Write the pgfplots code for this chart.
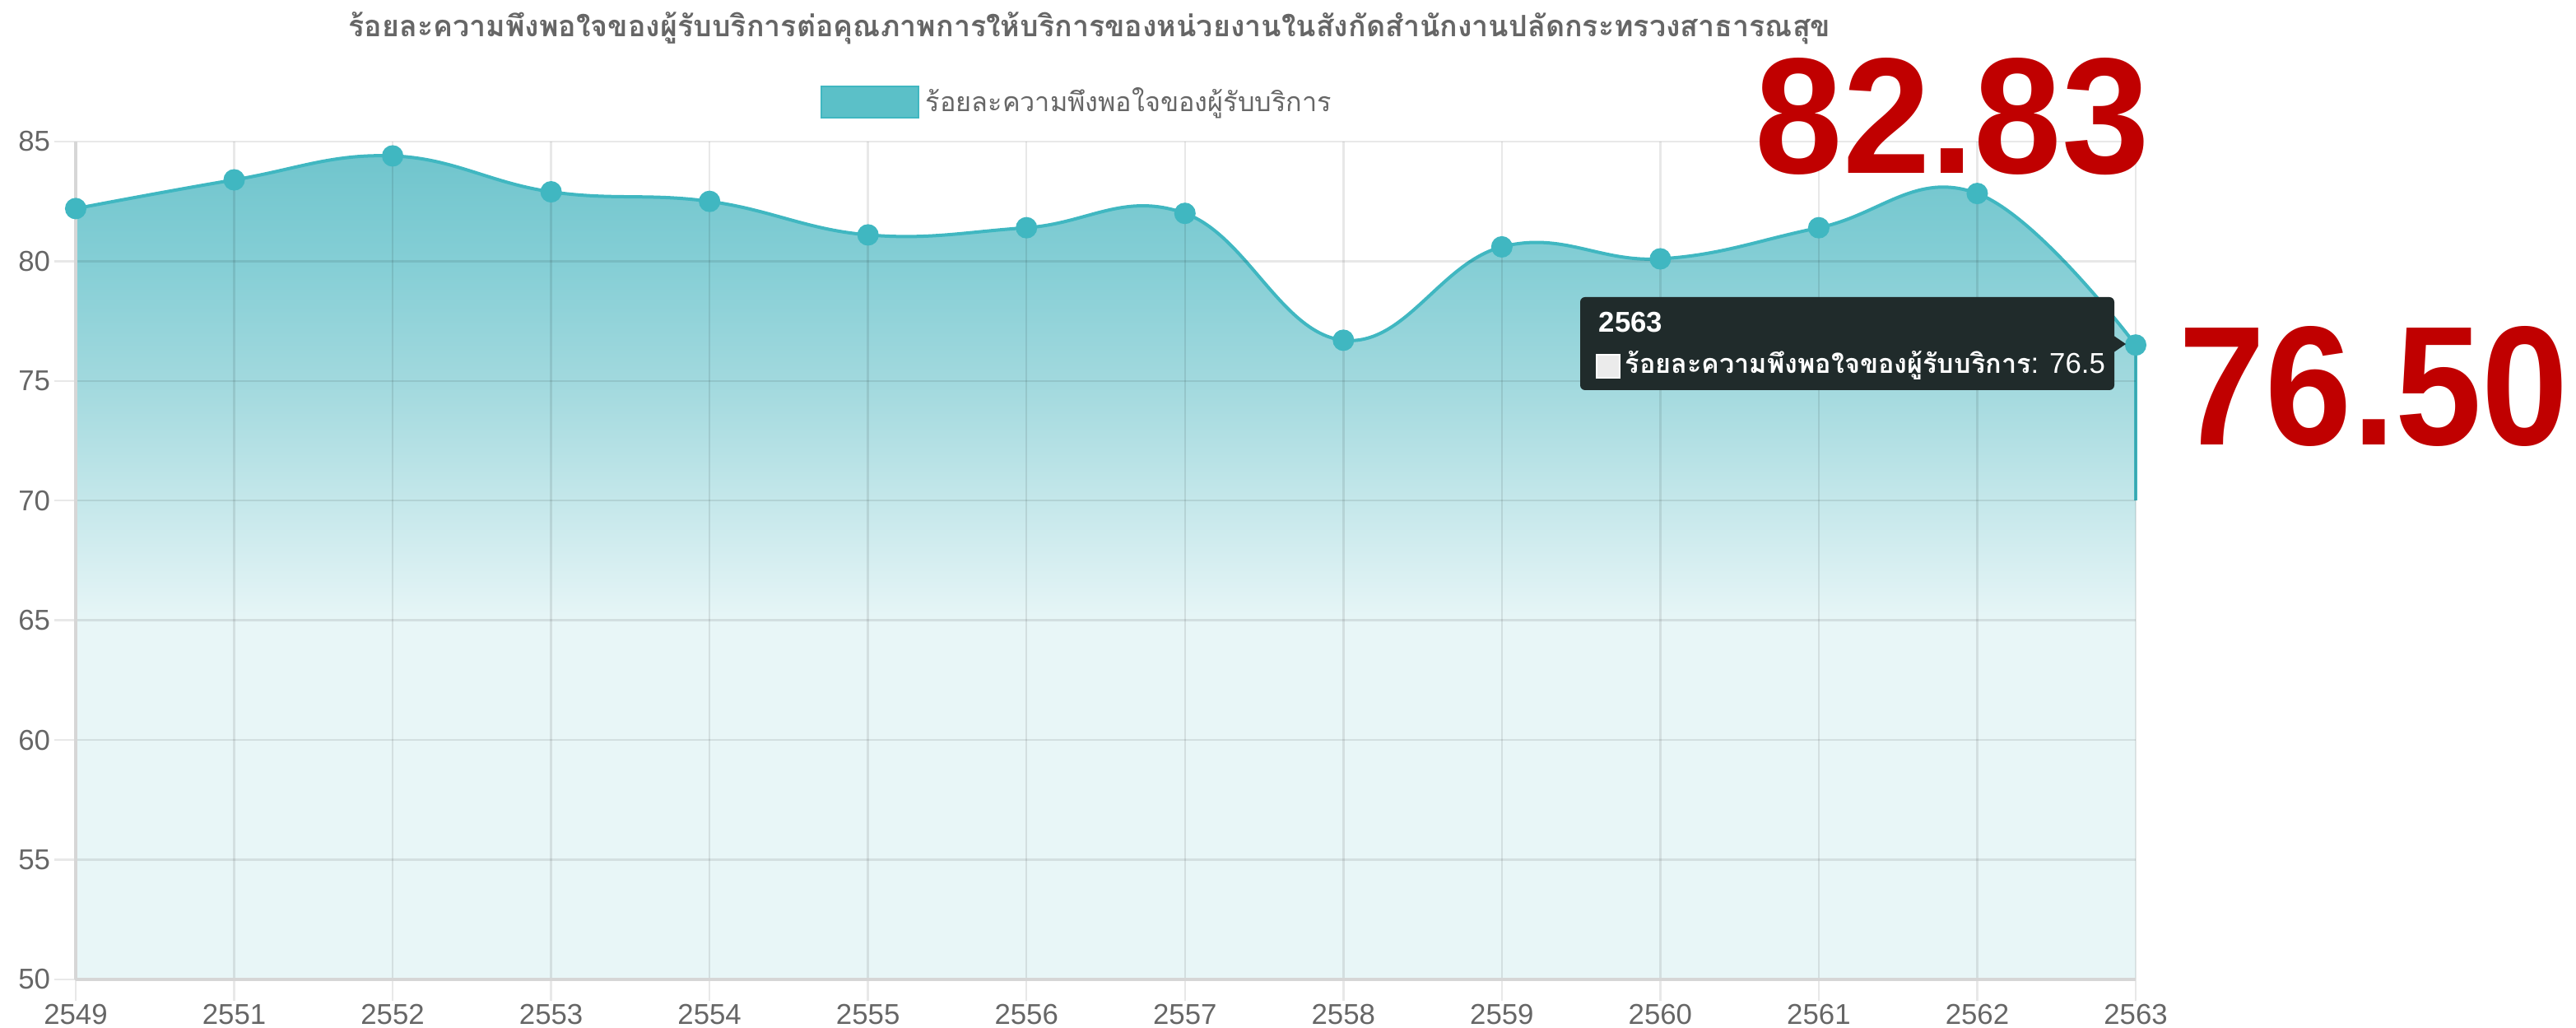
\documentclass[border=0pt]{standalone}
\usepackage{fontspec}
\setmainfont{Liberation Sans}
\newfontfamily\thai[Script=Thai]{Loma}
\usepackage{graphicx}
\usepackage{pgfplots}
\usepackage{pgfplotstable}
\pgfplotsset{compat=1.18}
\definecolor{teal1}{RGB}{64,183,193}
\definecolor{legfill}{RGB}{91,192,200}
\definecolor{gtext}{RGB}{102,102,102}
\definecolor{ttbg}{RGB}{32,43,43}
\definecolor{bigred}{RGB}{192,0,0}
\definecolor{s0}{RGB}{232,246,247}
\definecolor{s1}{RGB}{196,231,234}
\definecolor{s2}{RGB}{162,217,222}
\definecolor{s3}{RGB}{132,206,213}
\definecolor{s4}{RGB}{112,197,205}
\pgfdeclareverticalshading{areashade}{100bp}{color(0bp)=(s0); color(46.5bp)=(s0); color(54bp)=(s1); color(61bp)=(s2); color(68.5bp)=(s3); color(75bp)=(s4); color(100bp)=(s4)}
\pgfplotstableread{
x y
0 82.2
1 83.4
2 84.4
3 82.9
4 82.5
5 81.1
6 81.4
7 82.0
8 76.7
9 80.6
10 80.1
11 81.4
12 82.83
13 76.5
}\satdata
\begin{document}
\begin{tikzpicture}
\begin{axis}[
  at={(23pt,14.75pt)}, anchor=south west,
  scale only axis, width=625.75pt, height=254.5pt,
  xmin=0, xmax=13, ymin=50, ymax=85,
  xtick={0,...,13},
  xticklabels={2549,2551,2552,2553,2554,2555,2556,2557,2558,2559,2560,2561,2562,2563},
  ytick={50,55,...,85},
  grid=major,
  grid style={black, opacity=0.09, line width=0.6pt},
  axis x line*=bottom, axis y line*=left,
  axis line style={-, draw=black!16, line width=0.8pt},
  tick align=outside, major tick length=6.5pt,
  tick style={black, opacity=0.09, line width=0.6pt},
  ticklabel style={font=\fontsize{8.7}{10}\selectfont, text=gtext},
  xticklabel style={yshift=2.4pt},
  yticklabel style={xshift=2.3pt},
  /pgf/number format/assume math mode=true,
  axis on top,
  clip=false,
  legend style={at={(0.3612,1.047)}, anchor=west, draw=none, fill=none, inner sep=0pt,
    font=\thai\fontsize{8.1}{10}\selectfont, text=gtext},
]
\addplot[draw=none, shade, shading=areashade, smooth, tension=0.7, forget plot] table {\satdata} \closedcycle;
\addlegendimage{legend image code/.code={\draw[fill=legfill, draw=teal1, line width=0.5pt] (0pt,-4.75pt) rectangle (29.5pt,4.75pt);}}
\addlegendentry{ร้อยละความพึงพอใจของผู้รับบริการ}
\addplot[teal1, line width=1pt, smooth, tension=0.7, mark=*, mark size=2.75pt, mark options={fill=teal1, draw=teal1}, forget plot] table {\satdata};
\addplot[teal1, line width=0.8pt, forget plot] coordinates {(13,76.5) (13,70)};
\end{axis}
% title
\node[font=\thai\bfseries\fontsize{8.95}{11}\selectfont, text=gtext] at (331pt,303.75pt) {ร้อยละความพึงพอใจของผู้รับบริการต่อคุณภาพการให้บริการของหน่วยงานในสังกัดสำนักงานปลัดกระทรวงสาธารณสุข};
% tooltip
\fill[ttbg, rounded corners=1.5pt] (480pt,193.75pt) rectangle (642.25pt,222pt);
\fill[ttbg] (641pt,211pt) -- (645.75pt,207.75pt) -- (641pt,204.5pt) -- cycle;
\node[anchor=base west, text=white, font=\bfseries\fontsize{8.7}{10}\selectfont, inner sep=0pt] at (485.5pt,211.25pt) {2563};
\filldraw[fill=black!8, draw=white, line width=0.5pt] (485pt,197.5pt) rectangle (492pt,204.5pt);
\node[anchor=base west, text=white, inner sep=0pt] at (493.5pt,198.75pt) {{\thai\bfseries\fontsize{8.1}{10}\selectfont ร้อยละความพึงพอใจของผู้รับบริการ}\fontsize{8.7}{10}\selectfont: 76.5};
% big numbers
\node[anchor=south west, inner sep=0pt, text=bigred] at (533pt,258.75pt) {\resizebox{119.75pt}{35pt}{\bfseries 82.83}};
\node[anchor=south west, inner sep=0pt, text=bigred] at (661.75pt,176.5pt) {\resizebox{118.25pt}{36pt}{\bfseries 76.50}};
\pgfresetboundingbox
\path[use as bounding box] (0pt,0pt) rectangle (782.5pt,312.25pt);
\end{tikzpicture}
\end{document}
